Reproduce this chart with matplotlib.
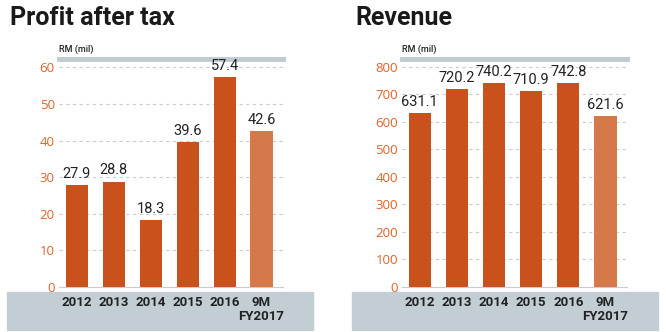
import matplotlib
matplotlib.use("Agg")
import matplotlib.pyplot as plt
from matplotlib.patches import Rectangle

categories = ["2012", "2013", "2014", "2015", "2016", "9M\nFY2017"]
profit = [27.9, 28.8, 18.3, 39.6, 57.4, 42.6]
revenue = [631.1, 720.2, 740.2, 710.9, 742.8, 621.6]
profit_ticks = [0, 10, 20, 30, 40, 50, 60]
revenue_ticks = [0, 100, 200, 300, 400, 500, 600, 700, 800]

narrow = "Roboto"

BAR = "#c9521c"
BAR_LIGHT = "#d6794a"
TICK = "#e2622a"
BAND = "#c2ced4"
RULE = "#bfcbd1"
TEXT = "#222222"

fig = plt.figure(figsize=(6.66, 3.32), dpi=100)
W, H = 666, 332


def fx(px):
    return px / W


def fy(py):
    return 1 - py / H


def panel(x0, x1, band_x0, band_x1, title, values, ticks, ymax, fmt):
    ax = fig.add_axes([fx(x0), fy(287), fx(x1 - x0), fy(59) - fy(287)])
    colors = [BAR] * (len(values) - 1) + [BAR_LIGHT]
    xs = range(len(values))
    ax.bar(xs, values, width=0.6, color=colors, zorder=3)
    ax.set_xlim(-0.48, 5.58)
    ax.set_ylim(0, ymax)
    ax.set_yticks(ticks)
    ax.set_yticklabels([str(t) for t in ticks], color=TICK, fontsize=9.5,
                       family="Open Sans")
    ax.tick_params(axis="y", length=0, pad=3)
    ax.set_xticks([])
    ax.grid(axis="y", color="#cccccc", linestyle=(0, (3, 3)), linewidth=0.8,
            zorder=0)
    for s in ["left", "right"]:
        ax.spines[s].set_visible(False)
    ax.spines["top"].set_color(RULE)
    ax.spines["top"].set_linewidth(3.5)
    ax.spines["bottom"].set_color("#cccccc")
    ax.spines["bottom"].set_linewidth(0.8)
    for x, v in zip(xs, values):
        ax.annotate(fmt.format(v), (x, v), xytext=(0, 3),
                    textcoords="offset points", ha="center", va="bottom",
                    fontsize=10.5, color=TEXT, family=narrow)
    ax.text(0, 1.02, "RM (mil)", transform=ax.transAxes, fontsize=6.5,
            color=TEXT, family=narrow, fontweight="medium", va="bottom")
    fig.text(fx(band_x0 + 3), fy(18), title, fontsize=18, fontweight="bold",
             color="#1a1a1a", family="Roboto", va="center", ha="left")
    fig.add_artist(Rectangle((fx(band_x0), fy(330)), fx(band_x1 - band_x0),
                             fy(292) - fy(330), transform=fig.transFigure,
                             color=BAND, zorder=0))
    for x, c in zip(xs, categories):
        ax.text(x, -9.5 / 228 * ymax, c, ha="center", va="top",
                fontsize=9.5, fontweight="bold", color=TEXT, family=narrow,
                linespacing=1.0)


panel(59, 283, 7, 313, "Profit after tax", profit, profit_ticks, 62.3, "{:.1f}")
panel(402, 627, 352, 658, "Revenue", revenue, revenue_ticks, 829, "{:.1f}")

fig.savefig("out.png", dpi=100)
